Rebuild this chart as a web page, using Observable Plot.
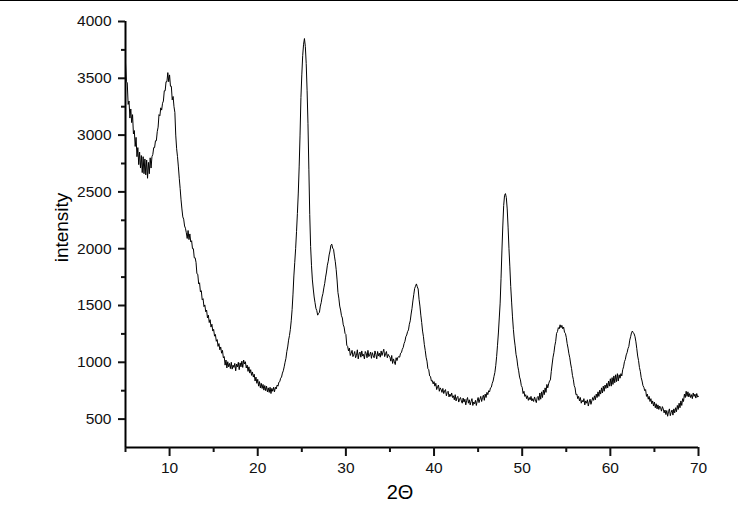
<!DOCTYPE html>
<html>
<head>
<meta charset="utf-8">
<script src="https://cdn.jsdelivr.net/npm/d3@7"></script>
<script src="https://cdn.jsdelivr.net/npm/@observablehq/plot@0.6"></script>
<style>
  html, body { margin: 0; padding: 0; background: #fff; }
  #wrap { position: relative; width: 738px; height: 506px; }
  #topline { position: absolute; left: 0; top: 0; width: 738px; height: 1px; background: #000; }
  svg { display: block; }
</style>
</head>
<body>
<div id="wrap"><div id="chart"></div><div id="topline"></div></div>
<script>
// 2-theta sampling: start and step of the scan
const thetaStart = 5;
const thetaStep = 0.1;

// intensity values, one row per degree (x.0 ... x.9), last value at 70.0
const intensity = [
  3640,3470,3460,3270,3300,3150,3230,3110,3180,3010, // 5
  3040,2900,2980,2810,2890,2740,2850,2710,2820,2670, // 6
  2810,2660,2790,2650,2780,2620,2760,2660,2800,2710, // 7
  2810,2830,2890,2890,2950,2950,3030,3070,3180,3170, // 8
  3240,3220,3280,3300,3390,3390,3470,3470,3550,3470, // 9
  3530,3430,3430,3310,3340,3250,3200,3000,2880,2810, // 10
  2720,2620,2530,2430,2350,2280,2260,2200,2180,2140, // 11
  2090,2160,2080,2130,2060,2070,2000,2000,1920,1920, // 12
  1880,1780,1775,1690,1700,1620,1630,1550,1560,1490, // 13
  1505,1445,1460,1390,1415,1350,1375,1310,1335,1275, // 14
  1290,1230,1245,1185,1200,1140,1165,1110,1135,1080, // 15
  1105,1040,1050,975,1020,950,1005,960,990,945,      // 16
  1000,940,975,955,990,925,985,960,1000,935,         // 17
  995,960,1010,955,1020,985,1005,950,975,920,        // 18
  960,905,935,885,915,870,895,835,870,815,           // 19
  850,790,830,775,815,770,805,755,795,750,           // 20
  790,740,775,735,780,725,770,745,780,740,           // 21
  780,765,800,790,825,830,860,870,905,925,           // 22
  960,1000,1035,1095,1135,1195,1235,1290,1365,1465,  // 23
  1600,1760,1880,2000,2150,2310,2490,2720,3000,3330, // 24
  3530,3700,3800,3850,3780,3630,3390,3100,2700,2300, // 25
  2020,1850,1725,1645,1575,1525,1475,1455,1415,1430, // 26
  1440,1495,1525,1575,1605,1655,1695,1750,1795,1855, // 27
  1890,1945,1980,2030,2040,2005,1995,1935,1885,1815, // 28
  1725,1615,1565,1495,1460,1410,1390,1330,1310,1255, // 29
  1245,1150,1140,1100,1125,1060,1080,1105,1050,1070, // 30
  1095,1040,1060,1110,1030,1075,1090,1045,1100,1055, // 31
  1070,1030,1095,1080,1040,1105,1050,1065,1090,1035, // 32
  1085,1060,1040,1100,1070,1030,1095,1055,1080,1045, // 33
  1100,1060,1090,1115,1050,1075,1095,1040,1070,1055, // 34
  1045,1010,1060,990,1030,1005,980,1040,1015,1045,   // 35
  1050,1045,1080,1085,1115,1130,1165,1185,1225,1240, // 36
  1270,1285,1335,1365,1425,1475,1540,1595,1650,1670, // 37
  1690,1665,1645,1555,1495,1415,1350,1275,1225,1155, // 38
  1105,1045,1010,945,935,880,875,835,840,810,        // 39
  830,790,815,760,785,800,745,775,760,735,           // 40
  770,725,750,760,705,735,745,695,720,700,           // 41
  730,690,705,670,715,660,690,700,650,675,           // 42
  690,660,640,685,650,675,625,665,690,640,           // 43
  670,625,655,680,620,650,635,665,620,660,           // 44
  690,645,675,700,655,690,710,665,720,690,           // 45
  735,715,750,740,775,780,815,835,875,910,           // 46
  970,1050,1150,1258,1390,1521,1740,1980,2200,2380,  // 47
  2470,2485,2450,2350,2190,2000,1840,1667,1530,1400, // 48
  1290,1205,1145,1070,1030,965,925,870,845,795,      // 49
  780,725,745,700,715,680,705,665,690,670,           // 50
  700,660,680,655,695,670,645,690,700,665,           // 51
  730,675,740,690,755,715,775,735,805,775,           // 52
  810,835,845,920,985,1045,1085,1145,1185,1255,      // 53
  1270,1305,1295,1330,1305,1325,1295,1310,1265,1255, // 54
  1220,1165,1125,1075,1040,985,945,885,850,795,      // 55
  775,715,720,680,700,660,690,640,665,650,           // 56
  680,625,660,640,670,615,650,675,630,660,           // 57
  690,665,705,670,720,690,740,700,755,720,           // 58
  775,730,790,745,800,770,815,775,835,790,           // 59
  855,790,865,805,880,820,890,830,900,835,           // 60
  890,860,900,880,935,960,1005,1025,1065,1085,       // 61
  1120,1140,1195,1225,1260,1275,1260,1250,1225,1180, // 62
  1120,1055,1015,955,920,865,835,795,780,750,        // 63
  760,700,720,675,700,655,680,635,660,615,           // 64
  650,600,635,590,625,585,615,600,570,610,           // 65
  590,555,580,540,575,525,565,590,530,560,           // 66
  580,535,590,555,600,565,620,585,640,600,           // 67
  660,620,680,655,720,690,745,700,740,695,           // 68
  725,690,715,680,730,700,720,685,725,695,           // 69
  700                                                // 70
];

const xDomain = [5, 70];
const yDomain = [250, 4000];
const xMajorTicks = [10, 20, 30, 40, 50, 60, 70];
const xMinorTicks = [5, 15, 25, 35, 45, 55, 65];
const yMajorTicks = [500, 1000, 1500, 2000, 2500, 3000, 3500, 4000];
const yMinorTicks = [750, 1250, 1750, 2250, 2750, 3250, 3750];
const xLabel = "2\u0398";
const yLabel = "intensity";

const data = intensity.map((v, i) => ({ t: +(thetaStart + i * thetaStep).toFixed(1), v }));

const font = "Liberation Sans, Arial, sans-serif";
const plain = (d) => String(d);

const chart = Plot.plot({
  width: 738,
  height: 506,
  marginLeft: 125,
  marginRight: 40,
  marginTop: 21,
  marginBottom: 59,
  style: { fontFamily: font, fontSize: "15px", color: "#111", background: "#fff", overflow: "visible" },
  x: { domain: xDomain },
  y: { domain: yDomain },
  marks: [
    Plot.line(data, { x: "t", y: "v", stroke: "#000", strokeWidth: 1 }),
    Plot.ruleX([xDomain[0]], { stroke: "#000", strokeWidth: 2 }),
    Plot.ruleY([yDomain[0]], { stroke: "#000", strokeWidth: 2 }),
    Plot.axisX({ ticks: xMajorTicks, tickFormat: plain, tickSize: 9, tickPadding: 5, strokeWidth: 2, label: null, fontSize: 15.5 }),
    Plot.axisX({ ticks: xMinorTicks, tickSize: 5, strokeWidth: 2, text: null, label: null }),
    Plot.axisY({ ticks: yMajorTicks, tickFormat: plain, tickSize: 7, tickPadding: 7, strokeWidth: 2, label: null, fontSize: 15.5 }),
    Plot.axisY({ ticks: yMinorTicks, tickSize: 4, strokeWidth: 2, text: null, label: null }),
    Plot.text([xLabel], { frameAnchor: "bottom", dx: -12, dy: 45, fontSize: 20, fill: "#000", lineAnchor: "middle" }),
    Plot.text([yLabel], { frameAnchor: "left", textAnchor: "middle", dx: -64, dy: -7, rotate: -90, fontSize: 19, fill: "#000", lineAnchor: "middle" })
  ]
});
document.getElementById("chart").appendChild(chart);
</script>
</body>
</html>
